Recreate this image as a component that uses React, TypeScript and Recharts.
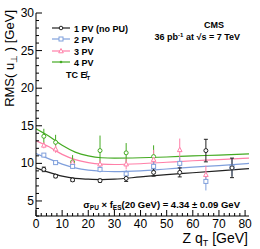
import React from 'react';
import { ComposedChart, Line, Scatter, ErrorBar, XAxis, YAxis } from 'recharts';

// fitted curves
const CURVE_X = [0, 5, 10, 15, 20, 25, 30, 40, 50, 60, 70, 81.5];
const CURVE_1PV = [9.4, 8.8, 8.3, 8.0, 7.9, 7.85, 7.9, 8.2, 8.5, 8.75, 9.0, 9.3];
const CURVE_2PV = [11.3, 10.6, 9.9, 9.4, 9.1, 8.95, 8.9, 9.0, 9.25, 9.5, 9.7, 10.0];
const CURVE_3PV = [13.0, 12.2, 11.2, 10.5, 10.1, 9.9, 9.85, 9.95, 10.15, 10.35, 10.5, 10.7];
const CURVE_4PV = [14.6, 13.6, 12.4, 11.5, 11.0, 10.75, 10.7, 10.75, 10.85, 11.0, 11.1, 11.25];

// measured points (Z qT bins)
const PT_X = [3, 7.5, 14, 24.5, 34.5, 45, 55, 65, 75];
const PT_1PV = [9.2, 8.3, 7.8, 7.7, 8.0, 8.8, 8.8, 11.7, 9.4];
const ERR_1PV = [0.3, 0.2, 0.2, 0.2, 0.4, 0.5, 0.6, 1.5, 1.3];
const PT_2PV = [11.1, 10.1, 9.6, 9.2, 8.6, 9.6, 10.0, 7.6, 9.5];
const ERR_2PV = [0.2, 0.2, 0.3, 0.4, 0.5, 0.8, 0.8, 1.2, 1.2];
const PT_3PV = [12.4, 11.9, 10.1, 9.9, 9.9, 10.5, 11.8, 8.5];
const ERR_3PV = [0.4, 0.5, 0.5, 0.5, 0.7, 1.3, 1.5, 1.2];
const PT_4PV = [13.6, 12.8, 10.2, 11.7, 11.4, 10.9];
const ERR_4PV = [1.0, 1.0, 0.9, 2.0, 1.3, 1.5];

const X_TICKS = [0, 2, 4, 6, 8, 10, 12, 14, 16, 18, 20, 22, 24, 26, 28, 30, 32, 34, 36, 38, 40, 42, 44, 46, 48, 50, 52, 54, 56, 58, 60, 62, 64, 66, 68, 70, 72, 74, 76, 78, 80];
const Y_TICKS = [3, 4, 5, 6, 7, 8, 9, 10, 11, 12, 13, 14, 15, 16, 17, 18, 19, 20, 21, 22, 23, 24, 25, 26, 27, 28, 29, 30];

const BLACK = '#222222';
const BLUE = '#7f9fdc';
const PINK = '#ff7fa8';
const GREEN = '#44aa22';
const FONT = '"Liberation Sans", Arial, sans-serif';

const curve = (ys: number[]) => CURVE_X.map((x, i) => ({ x, y: ys[i] }));
const points = (ys: number[], errs: number[]) => ys.map((y, i) => ({ x: PT_X[i], y, err: errs[i] }));

const BottomTick = (props: any) => {
  const { x, y, payload } = props;
  const major = payload.value % 10 === 0;
  return (
    <g>
      <line x1={x} x2={x} y1={y} y2={y - (major ? 6 : 3)} stroke="#000" />
      {major && (
        <text x={x} y={y + 12} textAnchor="middle" fontSize={12} fontFamily={FONT} fill="#000">
          {payload.value}
        </text>
      )}
    </g>
  );
};

const TopTick = (props: any) => {
  const { x, y, payload } = props;
  const major = payload.value % 10 === 0;
  return <line x1={x} x2={x} y1={y} y2={y + (major ? 6 : 3)} stroke="#000" />;
};

const LeftTick = (props: any) => {
  const { x, y, payload } = props;
  const major = payload.value % 5 === 0;
  return (
    <g>
      <line x1={x} x2={x + (major ? 6 : 3)} y1={y} y2={y} stroke="#000" />
      {major && (
        <text x={x - 2} y={y + 4} textAnchor="end" fontSize={12} fontFamily={FONT} fill="#000">
          {payload.value}
        </text>
      )}
    </g>
  );
};

const RightTick = (props: any) => {
  const { x, y, payload } = props;
  const major = payload.value % 5 === 0;
  return <line x1={x} x2={x - (major ? 6 : 3)} y1={y} y2={y} stroke="#000" />;
};

const circle = (color: string) => (p: any) => (
  <circle cx={p.cx} cy={p.cy} r={2} fill="#fff" stroke={color} strokeWidth={1} />
);
const square = (color: string) => (p: any) => (
  <rect x={p.cx - 2} y={p.cy - 2} width={4} height={4} fill="#fff" stroke={color} strokeWidth={1} />
);
const triangle = (color: string) => (p: any) => (
  <path d={`M${p.cx},${p.cy - 2.5}L${p.cx + 2.3},${p.cy + 1.8}L${p.cx - 2.3},${p.cy + 1.8}Z`} fill="#fff" stroke={color} strokeWidth={1} />
);

const LEGEND = [
  { label: '1 PV (no PU)', color: BLACK, y: 28 },
  { label: '2 PV', color: BLUE, y: 39 },
  { label: '3 PV', color: PINK, y: 51 },
  { label: '4 PV', color: GREEN, y: 62 },
];

export default function App() {
  return (
    <div style={{ position: 'absolute', left: 0, top: 0, width: 260, height: 249, background: '#fff' }}>
      <ComposedChart width={260} height={249} margin={{ top: 13, right: 11, left: 0, bottom: 0 }}>
        <XAxis
          xAxisId="b"
          type="number"
          dataKey="x"
          domain={[0, 81.5]}
          ticks={X_TICKS}
          interval={0}
          height={33}
          tickSize={0}
          tickMargin={0}
          tickLine={false}
          tick={<BottomTick />}
          axisLine={{ stroke: '#000' }}
          allowDataOverflow
        />
        <XAxis
          xAxisId="t"
          orientation="top"
          type="number"
          dataKey="x"
          domain={[0, 81.5]}
          ticks={X_TICKS}
          interval={0}
          height={0}
          tickSize={0}
          tickMargin={0}
          tickLine={false}
          tick={<TopTick />}
          axisLine={{ stroke: '#000' }}
          allowDataOverflow
        />
        <YAxis
          yAxisId="l"
          type="number"
          domain={[3, 30]}
          ticks={Y_TICKS}
          interval={0}
          width={36}
          tickSize={0}
          tickMargin={0}
          tickLine={false}
          tick={<LeftTick />}
          axisLine={{ stroke: '#000' }}
          allowDataOverflow
        />
        <YAxis
          yAxisId="r"
          orientation="right"
          type="number"
          domain={[3, 30]}
          ticks={Y_TICKS}
          interval={0}
          width={0}
          tickSize={0}
          tickMargin={0}
          tickLine={false}
          tick={<RightTick />}
          axisLine={{ stroke: '#000' }}
          allowDataOverflow
        />

        <Line xAxisId="b" yAxisId="l" data={curve(CURVE_1PV)} dataKey="y" type="monotone" stroke={BLACK} strokeWidth={1.2} dot={false} isAnimationActive={false} />
        <Line xAxisId="b" yAxisId="l" data={curve(CURVE_2PV)} dataKey="y" type="monotone" stroke={BLUE} strokeWidth={1.2} dot={false} isAnimationActive={false} />
        <Line xAxisId="b" yAxisId="l" data={curve(CURVE_3PV)} dataKey="y" type="monotone" stroke={PINK} strokeWidth={1.2} dot={false} isAnimationActive={false} />
        <Line xAxisId="b" yAxisId="l" data={curve(CURVE_4PV)} dataKey="y" type="monotone" stroke={GREEN} strokeWidth={1.2} dot={false} isAnimationActive={false} />

        <Scatter xAxisId="b" yAxisId="l" data={points(PT_4PV, ERR_4PV)} dataKey="y" shape={circle(GREEN)} isAnimationActive={false}>
          <ErrorBar dataKey="err" direction="y" width={0} stroke={GREEN} strokeWidth={1} />
        </Scatter>
        <Scatter xAxisId="b" yAxisId="l" data={points(PT_3PV, ERR_3PV)} dataKey="y" shape={triangle(PINK)} isAnimationActive={false}>
          <ErrorBar dataKey="err" direction="y" width={0} stroke={PINK} strokeWidth={1} />
        </Scatter>
        <Scatter xAxisId="b" yAxisId="l" data={points(PT_2PV, ERR_2PV)} dataKey="y" shape={square(BLUE)} isAnimationActive={false}>
          <ErrorBar dataKey="err" direction="y" width={0} stroke={BLUE} strokeWidth={1} />
        </Scatter>
        <Scatter xAxisId="b" yAxisId="l" data={points(PT_1PV, ERR_1PV)} dataKey="y" shape={circle(BLACK)} isAnimationActive={false}>
          <ErrorBar dataKey="err" direction="y" width={2} stroke={BLACK} strokeWidth={1} />
        </Scatter>
      </ComposedChart>

      <svg width={260} height={249} style={{ position: 'absolute', left: 0, top: 0, pointerEvents: 'none' }} fontFamily={FONT}>
        <text transform="translate(14,10) rotate(-90)" textAnchor="end" fontSize={13} fill="#000">
          RMS( u<tspan dy={3} fontSize={9}>⊥</tspan><tspan dy={-3}> )  [GeV]</tspan>
        </text>
        <text x={248} y={243} textAnchor="end" fontSize={14} fill="#000">
          Z q<tspan dy={3} fontSize={9}>T</tspan><tspan dy={-3}> [GeV]</tspan>
        </text>

        {LEGEND.map((e, i) => (
          <g key={e.label}>
            <line x1={52} x2={70} y1={e.y} y2={e.y} stroke={e.color} strokeWidth={1.2} />
            {i === 0 && <circle cx={61} cy={e.y} r={1.8} fill="#fff" stroke={e.color} />}
            {i === 1 && <rect x={59} y={e.y - 2} width={4} height={4} fill="#fff" stroke={e.color} />}
            {i === 2 && <path d={`M61,${e.y - 2.5}L63.3,${e.y + 1.8}L58.7,${e.y + 1.8}Z`} fill="#fff" stroke={e.color} />}
            {i === 3 && <circle cx={61} cy={e.y} r={1.3} fill={e.color} />}
            <text x={74} y={e.y + 3.5} fontSize={9} fontWeight="bold" fill="#000">{e.label}</text>
          </g>
        ))}
        <text x={66} y={78} fontSize={9} fontWeight="bold" fill="#000">
          TC E̸<tspan dy={2} fontSize={6}>T</tspan>
        </text>

        <text x={214} y={28} textAnchor="middle" fontSize={9} fontWeight="bold" fill="#000">CMS</text>
        <text x={240} y={40} textAnchor="end" fontSize={9} fontWeight="bold" fill="#000">
          36 pb<tspan dy={-3} fontSize={6}>-1</tspan><tspan dy={3}>  at √s = 7 TeV</tspan>
        </text>

        <text x={240} y={208} textAnchor="end" fontSize={9.5} fontWeight="bold" fill="#000">
          σ<tspan dy={2} fontSize={6.5}>PU</tspan><tspan dy={-2}> × f</tspan><tspan dy={2} fontSize={6.5}>ES</tspan><tspan dy={-2}>(20 GeV) = 4.34 ± 0.09 GeV</tspan>
        </text>
      </svg>
    </div>
  );
}
